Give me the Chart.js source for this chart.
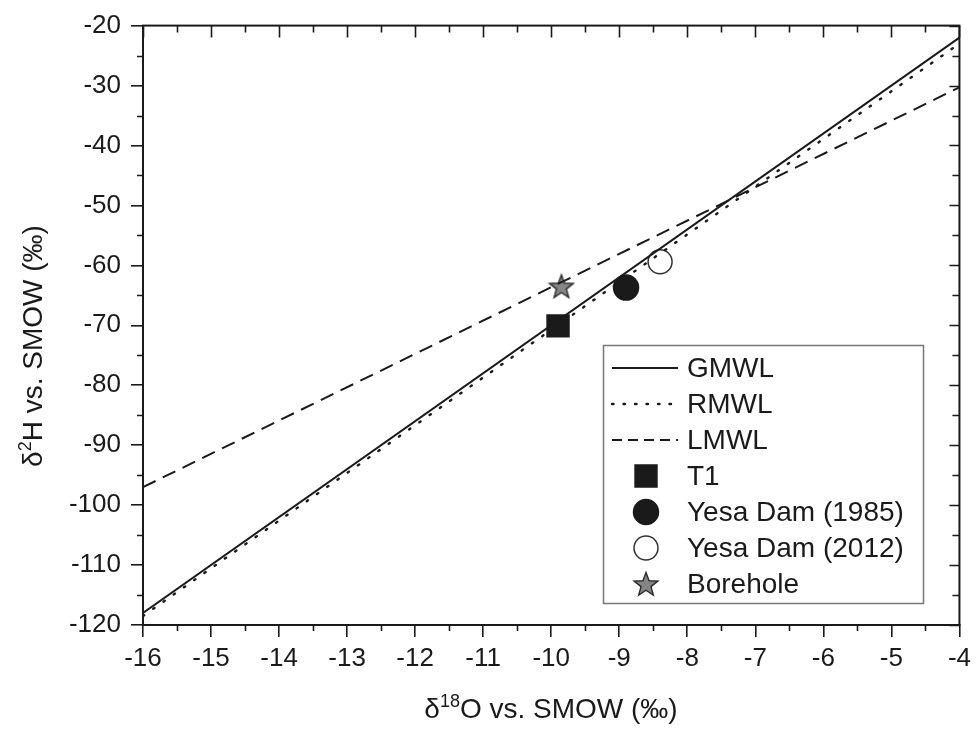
<!DOCTYPE html>
<html>
<head>
<meta charset="utf-8">
<script src="https://cdn.jsdelivr.net/npm/chart.js@4.4.0/dist/chart.umd.min.js"></script>
<style>
  html, body { margin: 0; padding: 0; background: #fff; }
  #wrap { width: 977px; height: 735px; position: relative; }
</style>
</head>
<body>
<div id="wrap"><canvas id="isoChart"></canvas></div>
<script>
// water lines, end points over the x range
const lineX = [-16, -4];
const gmwlY = [-118, -22];
const rmwlY = [-118.5, -23.0];
const lmwlY = [-97.0, -30.3];

// samples
const sampleNames = ['T1', 'Yesa Dam (1985)', 'Yesa Dam (2012)', 'Borehole'];
const sampleX = [-9.9, -8.9, -8.4, -9.85];
const sampleY = [-70.1, -63.7, -59.4, -63.5];

const lineNames = ['GMWL', 'RMWL', 'LMWL'];

const INK = '#1a1a1a';
const FONT = "'Liberation Sans', Arial, sans-serif";

// 5 point star used as point style
function makeStar(size) {
  const c = document.createElement('canvas');
  c.width = size; c.height = size;
  const g = c.getContext('2d');
  const cx = size / 2, cy = size / 2 + 1;
  const ro = size / 2 - 1.5, ri = ro * 0.42;
  g.beginPath();
  for (let i = 0; i < 10; i++) {
    const r = i % 2 ? ri : ro;
    const a = -Math.PI / 2 + i * Math.PI / 5;
    g.lineTo(cx + r * Math.cos(a), cy + r * Math.sin(a));
  }
  g.closePath();
  g.fillStyle = '#858585';
  g.fill();
  g.lineWidth = 1.4;
  g.strokeStyle = '#2a2a2a';
  g.stroke();
  return c;
}
const starImg = makeStar(28);

const pts = (xs, ys) => xs.map((x, i) => ({ x: x, y: ys[i] }));

const sampleStyles = [
  { pointStyle: 'rect', radius: 15.5, bg: INK, border: INK },
  { pointStyle: 'circle', radius: 12.5, bg: INK, border: INK },
  { pointStyle: 'circle', radius: 12, bg: '#fff', border: '#333' },
  { pointStyle: starImg, radius: 14, bg: '#858585', border: '#333' }
];

const datasets = [
  { label: lineNames[0], data: pts(lineX, gmwlY), showLine: true, borderColor: INK, borderWidth: 2, pointRadius: 0 },
  { label: lineNames[1], data: pts(lineX, rmwlY), showLine: true, borderColor: INK, borderWidth: 2.4, borderDash: [1.5, 11], borderCapStyle: 'round', pointRadius: 0 },
  { label: lineNames[2], data: pts(lineX, lmwlY), showLine: true, borderColor: INK, borderWidth: 2, borderDash: [14, 8], pointRadius: 0 }
];
sampleNames.forEach((name, i) => {
  const s = sampleStyles[i];
  datasets.push({
    label: name,
    data: [{ x: sampleX[i], y: sampleY[i] }],
    showLine: false,
    pointStyle: s.pointStyle,
    pointRadius: s.radius,
    pointBackgroundColor: s.bg,
    pointBorderColor: s.border,
    pointBorderWidth: 1.5
  });
});

// frame, minor ticks, mirror ticks, axis titles, legend box
const decorPlugin = {
  id: 'decor',
  afterDraw(chart) {
    const ctx = chart.ctx;
    const a = chart.chartArea;
    const xs = chart.scales.x, ys = chart.scales.y;
    ctx.save();
    ctx.strokeStyle = INK;
    ctx.lineWidth = 2;
    ctx.strokeRect(a.left, a.top, a.right - a.left, a.bottom - a.top);

    ctx.lineWidth = 1.6;
    ctx.beginPath();
    // x ticks: minor below, major+minor on top inward
    for (let v = xs.min; v <= xs.max + 1e-6; v += 0.5) {
      const px = Math.round(xs.getPixelForValue(v)) + 0.5;
      const major = Math.abs(v - Math.round(v)) < 1e-6;
      if (!major) { ctx.moveTo(px, a.bottom); ctx.lineTo(px, a.bottom + 6); }
      ctx.moveTo(px, a.top); ctx.lineTo(px, a.top + (major ? 12 : 7));
    }
    for (let v = ys.min; v <= ys.max + 1e-6; v += 5) {
      const py = Math.round(ys.getPixelForValue(v)) + 0.5;
      const major = Math.abs(v % 10) < 1e-6;
      if (!major) { ctx.moveTo(a.left, py); ctx.lineTo(a.left - 6, py); }
      ctx.moveTo(a.right, py); ctx.lineTo(a.right - (major ? 10 : 7), py);
    }
    ctx.stroke();

    // axis titles with superscripts
    ctx.fillStyle = INK;
    ctx.textBaseline = 'alphabetic';
    const title = (parts, cx, cy) => {
      let w = 0;
      parts.forEach(p => { ctx.font = p.size + 'px ' + FONT; w += ctx.measureText(p.t).width; });
      let x = cx - w / 2;
      parts.forEach(p => {
        ctx.font = p.size + 'px ' + FONT;
        ctx.fillText(p.t, x, cy + 10 - (p.sup ? 11 : 0));
        x += ctx.measureText(p.t).width;
      });
    };
    title([{ t: 'δ', size: 28 }, { t: '18', size: 18, sup: true }, { t: 'O vs. SMOW (‰)', size: 28 }], 551, 708);
    ctx.save();
    ctx.translate(32, 346);
    ctx.rotate(-Math.PI / 2);
    title([{ t: 'δ', size: 28 }, { t: '2', size: 18, sup: true }, { t: 'H vs. SMOW (‰)', size: 28 }], 0, 0);
    ctx.restore();

    // legend
    const lx = 603, ly = 345, lw = 320, lh = 258;
    ctx.fillStyle = '#fff';
    ctx.fillRect(lx, ly, lw, lh);
    ctx.strokeStyle = '#777';
    ctx.lineWidth = 1.5;
    ctx.strokeRect(lx + 0.5, ly + 0.5, lw, lh);
    ctx.font = '28px ' + FONT;
    ctx.textBaseline = 'middle';
    ctx.textAlign = 'left';
    chart.data.datasets.forEach((ds, i) => {
      const ry = 368 + i * 36;
      if (ds.showLine) {
        ctx.save();
        ctx.strokeStyle = INK;
        ctx.lineWidth = ds.borderWidth;
        ctx.lineCap = ds.borderCapStyle || 'butt';
        ctx.setLineDash(i === 1 ? [1.5, 10] : i === 2 ? [10, 6] : []);
        ctx.beginPath();
        ctx.moveTo(612, ry); ctx.lineTo(678, ry);
        ctx.stroke();
        ctx.restore();
      } else {
        const s = sampleStyles[i - 3];
        if (s.pointStyle === starImg) {
          ctx.drawImage(starImg, 646 - 14, ry - 14);
        } else {
          ctx.save();
          ctx.fillStyle = s.bg;
          ctx.strokeStyle = s.border;
          ctx.lineWidth = 1.5;
          Chart.helpers.drawPoint(ctx, { pointStyle: s.pointStyle, radius: s.radius, rotation: 0, borderWidth: 1.5 }, 646, ry);
          ctx.restore();
        }
      }
      ctx.fillStyle = INK;
      ctx.fillText(ds.label, 687, ry + 1);
    });
    ctx.restore();
  }
};

new Chart(document.getElementById('isoChart'), {
  type: 'scatter',
  data: { datasets: datasets },
  options: {
    responsive: true,
    maintainAspectRatio: false,
    animation: false,
    layout: { padding: { top: 20, right: 15, bottom: 0, left: 0 } },
    plugins: { legend: { display: false }, tooltip: { enabled: false } },
    scales: {
      x: {
        type: 'linear',
        min: -16, max: -4,
        afterFit(scale) { scale.height = 110; },
        ticks: { stepSize: 1, color: INK, padding: 6, font: { family: FONT, size: 26 } },
        grid: { drawOnChartArea: false, drawTicks: true, tickLength: 12, color: INK, lineWidth: 1.6 },
        border: { color: INK, width: 2 }
      },
      y: {
        type: 'linear',
        min: -120, max: -20,
        afterFit(scale) { scale.width = 143; },
        ticks: { stepSize: 10, color: INK, padding: 10, font: { family: FONT, size: 26 } },
        grid: { drawOnChartArea: false, drawTicks: true, tickLength: 12, color: INK, lineWidth: 1.6 },
        border: { color: INK, width: 2 }
      }
    }
  },
  plugins: [decorPlugin]
});
</script>
</body>
</html>
